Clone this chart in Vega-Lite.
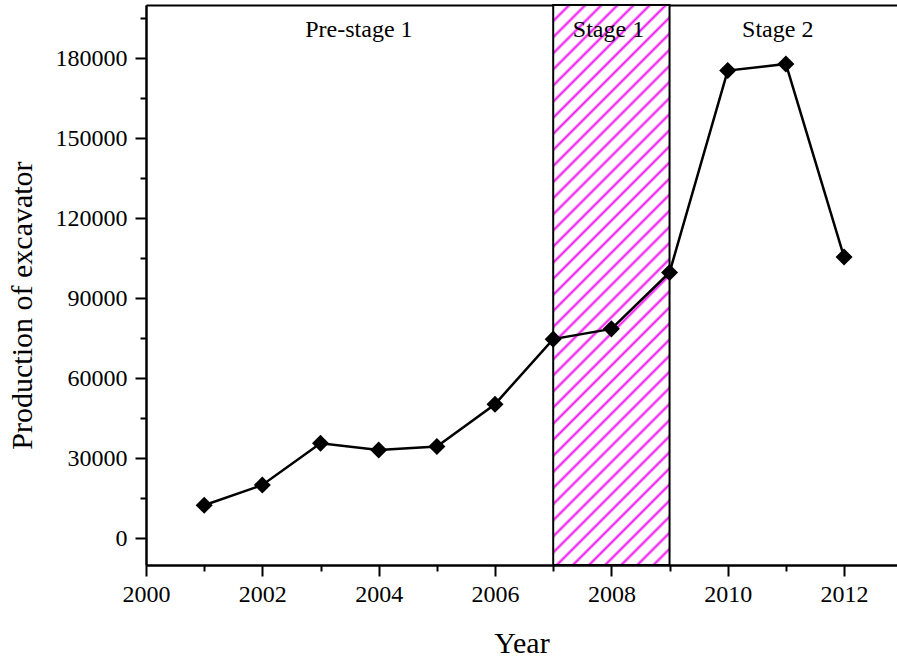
{
  "$schema": "https://vega.github.io/schema/vega-lite/v6.json",
  "description": "Production of excavator by year, with stage bands",
  "width": 751,
  "height": 560,
  "autosize": "none",
  "padding": {"left": 146, "top": 5, "right": 0, "bottom": 96},
  "background": "white",
  "datasets": {
    "production": [
      {"year": 2001, "value": 12400},
      {"year": 2002, "value": 20000},
      {"year": 2003, "value": 35650},
      {"year": 2004, "value": 33150},
      {"year": 2005, "value": 34400},
      {"year": 2006, "value": 50300},
      {"year": 2007, "value": 74700},
      {"year": 2008, "value": 78550},
      {"year": 2009, "value": 99700},
      {"year": 2010, "value": 175400},
      {"year": 2011, "value": 177900},
      {"year": 2012, "value": 105500}
    ],
    "band": [{"start": 2007, "end": 2009}],
    "stages": [
      {"stage": "Pre-stage 1", "year": 2003.66},
      {"stage": "Stage 1", "year": 2007.95},
      {"stage": "Stage 2", "year": 2010.86}
    ]
  },
  "layer": [
    {
      "data": {"name": "band"},
      "mark": {
        "type": "rect",
        "stroke": "black",
        "strokeWidth": 2,
        "fill": {
          "gradient": "linear",
          "x1": 0, "y1": 0, "x2": 0.2405, "y2": 1.1578,
          "stops": [
            {"offset": 0, "color": "#f010f0"}, {"offset": 0.0045, "color": "#ffffff"}, {"offset": 0.0193, "color": "#ffffff"},
            {"offset": 0.02381, "color": "#f010f0"}, {"offset": 0.02831, "color": "#ffffff"}, {"offset": 0.04311, "color": "#ffffff"},
            {"offset": 0.04762, "color": "#f010f0"}, {"offset": 0.05212, "color": "#ffffff"}, {"offset": 0.06692, "color": "#ffffff"},
            {"offset": 0.07143, "color": "#f010f0"}, {"offset": 0.07593, "color": "#ffffff"}, {"offset": 0.09073, "color": "#ffffff"},
            {"offset": 0.09524, "color": "#f010f0"}, {"offset": 0.09974, "color": "#ffffff"}, {"offset": 0.11454, "color": "#ffffff"},
            {"offset": 0.11905, "color": "#f010f0"}, {"offset": 0.12355, "color": "#ffffff"}, {"offset": 0.13835, "color": "#ffffff"},
            {"offset": 0.14286, "color": "#f010f0"}, {"offset": 0.14736, "color": "#ffffff"}, {"offset": 0.16216, "color": "#ffffff"},
            {"offset": 0.16667, "color": "#f010f0"}, {"offset": 0.17117, "color": "#ffffff"}, {"offset": 0.18597, "color": "#ffffff"},
            {"offset": 0.19048, "color": "#f010f0"}, {"offset": 0.19498, "color": "#ffffff"}, {"offset": 0.20978, "color": "#ffffff"},
            {"offset": 0.21429, "color": "#f010f0"}, {"offset": 0.21879, "color": "#ffffff"}, {"offset": 0.23359, "color": "#ffffff"},
            {"offset": 0.2381, "color": "#f010f0"}, {"offset": 0.2426, "color": "#ffffff"}, {"offset": 0.2574, "color": "#ffffff"},
            {"offset": 0.2619, "color": "#f010f0"}, {"offset": 0.2664, "color": "#ffffff"}, {"offset": 0.2812, "color": "#ffffff"},
            {"offset": 0.28571, "color": "#f010f0"}, {"offset": 0.29021, "color": "#ffffff"}, {"offset": 0.30501, "color": "#ffffff"},
            {"offset": 0.30952, "color": "#f010f0"}, {"offset": 0.31402, "color": "#ffffff"}, {"offset": 0.32882, "color": "#ffffff"},
            {"offset": 0.33333, "color": "#f010f0"}, {"offset": 0.33783, "color": "#ffffff"}, {"offset": 0.35263, "color": "#ffffff"},
            {"offset": 0.35714, "color": "#f010f0"}, {"offset": 0.36164, "color": "#ffffff"}, {"offset": 0.37644, "color": "#ffffff"},
            {"offset": 0.38095, "color": "#f010f0"}, {"offset": 0.38545, "color": "#ffffff"}, {"offset": 0.40025, "color": "#ffffff"},
            {"offset": 0.40476, "color": "#f010f0"}, {"offset": 0.40926, "color": "#ffffff"}, {"offset": 0.42406, "color": "#ffffff"},
            {"offset": 0.42857, "color": "#f010f0"}, {"offset": 0.43307, "color": "#ffffff"}, {"offset": 0.44787, "color": "#ffffff"},
            {"offset": 0.45238, "color": "#f010f0"}, {"offset": 0.45688, "color": "#ffffff"}, {"offset": 0.47168, "color": "#ffffff"},
            {"offset": 0.47619, "color": "#f010f0"}, {"offset": 0.48069, "color": "#ffffff"}, {"offset": 0.49549, "color": "#ffffff"},
            {"offset": 0.5, "color": "#f010f0"}, {"offset": 0.5045, "color": "#ffffff"}, {"offset": 0.5193, "color": "#ffffff"},
            {"offset": 0.52381, "color": "#f010f0"}, {"offset": 0.52831, "color": "#ffffff"}, {"offset": 0.54311, "color": "#ffffff"},
            {"offset": 0.54762, "color": "#f010f0"}, {"offset": 0.55212, "color": "#ffffff"}, {"offset": 0.56692, "color": "#ffffff"},
            {"offset": 0.57143, "color": "#f010f0"}, {"offset": 0.57593, "color": "#ffffff"}, {"offset": 0.59073, "color": "#ffffff"},
            {"offset": 0.59524, "color": "#f010f0"}, {"offset": 0.59974, "color": "#ffffff"}, {"offset": 0.61454, "color": "#ffffff"},
            {"offset": 0.61905, "color": "#f010f0"}, {"offset": 0.62355, "color": "#ffffff"}, {"offset": 0.63835, "color": "#ffffff"},
            {"offset": 0.64286, "color": "#f010f0"}, {"offset": 0.64736, "color": "#ffffff"}, {"offset": 0.66216, "color": "#ffffff"},
            {"offset": 0.66667, "color": "#f010f0"}, {"offset": 0.67117, "color": "#ffffff"}, {"offset": 0.68597, "color": "#ffffff"},
            {"offset": 0.69048, "color": "#f010f0"}, {"offset": 0.69498, "color": "#ffffff"}, {"offset": 0.70978, "color": "#ffffff"},
            {"offset": 0.71429, "color": "#f010f0"}, {"offset": 0.71879, "color": "#ffffff"}, {"offset": 0.73359, "color": "#ffffff"},
            {"offset": 0.7381, "color": "#f010f0"}, {"offset": 0.7426, "color": "#ffffff"}, {"offset": 0.7574, "color": "#ffffff"},
            {"offset": 0.7619, "color": "#f010f0"}, {"offset": 0.7664, "color": "#ffffff"}, {"offset": 0.7812, "color": "#ffffff"},
            {"offset": 0.78571, "color": "#f010f0"}, {"offset": 0.79021, "color": "#ffffff"}, {"offset": 0.80501, "color": "#ffffff"},
            {"offset": 0.80952, "color": "#f010f0"}, {"offset": 0.81402, "color": "#ffffff"}, {"offset": 0.82882, "color": "#ffffff"},
            {"offset": 0.83333, "color": "#f010f0"}, {"offset": 0.83783, "color": "#ffffff"}, {"offset": 0.85263, "color": "#ffffff"},
            {"offset": 0.85714, "color": "#f010f0"}, {"offset": 0.86164, "color": "#ffffff"}, {"offset": 0.87644, "color": "#ffffff"},
            {"offset": 0.88095, "color": "#f010f0"}, {"offset": 0.88545, "color": "#ffffff"}, {"offset": 0.90025, "color": "#ffffff"},
            {"offset": 0.90476, "color": "#f010f0"}, {"offset": 0.90926, "color": "#ffffff"}, {"offset": 0.92406, "color": "#ffffff"},
            {"offset": 0.92857, "color": "#f010f0"}, {"offset": 0.93307, "color": "#ffffff"}, {"offset": 0.94787, "color": "#ffffff"},
            {"offset": 0.95238, "color": "#f010f0"}, {"offset": 0.95688, "color": "#ffffff"}, {"offset": 0.97168, "color": "#ffffff"},
            {"offset": 0.97619, "color": "#f010f0"}, {"offset": 0.98069, "color": "#ffffff"}, {"offset": 0.99549, "color": "#ffffff"},
            {"offset": 1, "color": "#f010f0"}
          ]
        }
      },
      "encoding": {
        "x": {
          "field": "start", "type": "quantitative",
          "scale": {"domain": [2000, 2012.91], "nice": false, "zero": false},
          "axis": {"orient": "top", "ticks": false, "labels": false, "domain": true, "domainColor": "black", "domainWidth": 2, "grid": false, "title": null}
        },
        "x2": {"field": "end"}
      }
    },
    {
      "data": {"name": "production"},
      "mark": {"type": "line", "color": "black", "strokeWidth": 2.5},
      "encoding": {
        "x": {
          "field": "year", "type": "quantitative",
          "scale": {"domain": [2000, 2012.91], "nice": false, "zero": false},
          "axis": {
            "orient": "bottom",
            "values": [2000, 2002, 2004, 2006, 2008, 2010, 2012],
            "format": "d",
            "tickSize": 11,
            "labelPadding": 6,
            "title": "Year",
            "titlePadding": 22
          }
        },
        "y": {
          "field": "value", "type": "quantitative",
          "scale": {"domain": [-10000, 200000], "nice": false, "zero": false},
          "axis": {
            "orient": "left",
            "values": [0, 30000, 60000, 90000, 120000, 150000, 180000],
            "format": "d",
            "tickSize": 11,
            "labelPadding": 8,
            "title": "Production of excavator",
            "titlePadding": 18,
            "titleY": 300
          }
        }
      }
    },
    {
      "data": {"name": "production"},
      "mark": {"type": "point", "shape": "diamond", "filled": true, "color": "black", "size": 290, "opacity": 1},
      "encoding": {
        "x": {
          "field": "year", "type": "quantitative",
          "scale": {"domain": [2000, 2012.91], "nice": false, "zero": false},
          "axis": {"orient": "bottom", "values": [2001, 2003, 2005, 2007, 2009, 2011], "tickSize": 6, "labels": false, "title": null}
        },
        "y": {
          "field": "value", "type": "quantitative",
          "scale": {"domain": [-10000, 200000], "nice": false, "zero": false},
          "axis": {"orient": "left", "values": [15000, 45000, 75000, 105000, 135000, 165000, 195000], "tickSize": 6, "labels": false, "title": null}
        }
      }
    },
    {
      "data": {"name": "stages"},
      "mark": {"type": "text", "font": "Liberation Serif", "fontSize": 24, "color": "black", "align": "center", "baseline": "alphabetic"},
      "encoding": {
        "x": {
          "field": "year", "type": "quantitative",
          "scale": {"domain": [2000, 2012.91], "nice": false, "zero": false},
          "axis": null
        },
        "y": {"datum": 188000, "type": "quantitative", "axis": null},
        "text": {"field": "stage"}
      }
    }
  ],
  "resolve": {"axis": {"x": "independent", "y": "independent"}},
  "config": {
    "view": {"stroke": null},
    "font": "Liberation Serif",
    "axis": {
      "grid": false,
      "domainColor": "black",
      "domainWidth": 2,
      "tickColor": "black",
      "tickWidth": 2,
      "labelFont": "Liberation Serif",
      "labelFontSize": 24,
      "labelColor": "black",
      "labelFlush": false,
      "labelOverlap": false,
      "titleFont": "Liberation Serif",
      "titleFontSize": 30,
      "titleFontWeight": "normal",
      "titleColor": "black"
    }
  }
}
